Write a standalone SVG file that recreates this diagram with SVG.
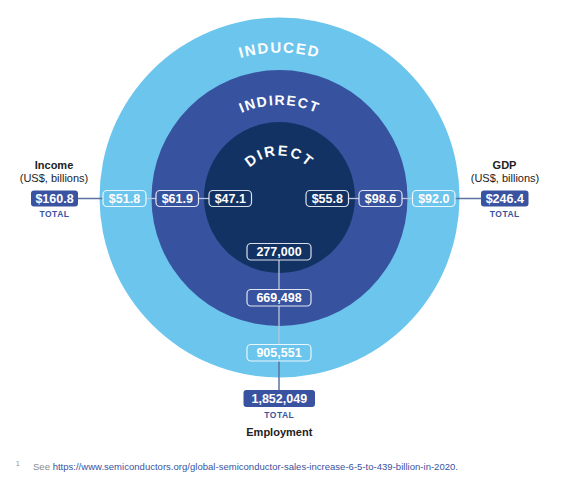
<svg xmlns="http://www.w3.org/2000/svg" width="562" height="484" viewBox="0 0 562 484">
<defs>
<style>
.pill{fill:none;stroke:#ffffff;stroke-opacity:0.85;stroke-width:1.2}
.tot{fill:#3a53a0}
.pt{font-family:"Liberation Sans",Arial,sans-serif;font-weight:bold;font-size:12.5px;fill:#ffffff;text-anchor:middle}
.lbl{font-family:"Liberation Sans",Arial,sans-serif;font-size:11px;fill:#222222;text-anchor:middle}
.b{font-weight:bold}
.total{font-family:"Liberation Sans",Arial,sans-serif;font-weight:bold;font-size:8.5px;fill:#3a53a0;text-anchor:middle;letter-spacing:0.5px}
.arc{font-family:"Liberation Sans",Arial,sans-serif;font-weight:bold;fill:#ffffff;text-anchor:middle}
.lin{stroke:#b9c6dc;stroke-width:1.3;fill:none}
.lout{stroke:#5a73a0;stroke-width:1.5;fill:none}
</style>
<path id="a1" d="M134.5,197.5 A145,145 0 0 1 424.5,197.5"/>
<path id="a2" d="M187,197.5 A92.5,92.5 0 0 1 372,197.5"/>
<path id="a3" d="M237.5,197.5 A42,42 0 0 1 321.5,197.5"/>
</defs>
<rect width="562" height="484" fill="#ffffff"/>
<g id="induced">
<circle cx="279.5" cy="197.5" r="180" fill="#6cc5ed"/>
</g>
<g id="indirect">
<circle cx="279.5" cy="198" r="128" fill="#37529e"/>
</g>
<g id="direct">
<circle cx="279.5" cy="197.5" r="75.5" fill="#133264"/>
</g>
<g id="ring-labels">
<text class="arc" font-size="15" letter-spacing="1.6"><textPath href="#a1" startOffset="50%">INDUCED</textPath></text>
<text class="arc" font-size="14" letter-spacing="1.5"><textPath href="#a2" startOffset="50%">INDIRECT</textPath></text>
<text class="arc" font-size="14.5" letter-spacing="2"><textPath href="#a3" startOffset="50%">DIRECT</textPath></text>
</g>
<g id="connectors">
<line class="lout" x1="78" y1="198.5" x2="103" y2="198.5"/>
<line class="lin" x1="146" y1="198.5" x2="156" y2="198.5"/>
<line class="lin" x1="198.5" y1="198.5" x2="209" y2="198.5"/>
<line class="lin" x1="348.5" y1="198.5" x2="359" y2="198.5"/>
<line class="lin" x1="402" y1="198.5" x2="412.5" y2="198.5"/>
<line class="lout" x1="455" y1="198.5" x2="481" y2="198.5"/>
<line class="lin" x1="279" y1="260" x2="279" y2="289"/>
<line class="lin" x1="279" y1="306" x2="279" y2="345"/>
<line class="lout" x1="279" y1="361" x2="279" y2="390"/>
</g>
<g id="income">
<text class="lbl b" x="54" y="169">Income</text>
<text class="lbl" x="54" y="182">(US$, billions)</text>
<rect class="tot" x="31" y="190.5" width="47" height="16" rx="3"/>
<text class="pt" x="54.5" y="203">$160.8</text>
<text class="total" x="54.5" y="217">TOTAL</text>
</g>
<g id="income-induced">
<rect class="pill" x="103" y="190.5" width="43" height="16" rx="4"/>
<text class="pt" x="124.5" y="203">$51.8</text>
</g>
<g id="income-indirect">
<rect class="pill" x="156" y="190.5" width="42.5" height="16" rx="4"/>
<text class="pt" x="177.3" y="203">$61.9</text>
</g>
<g id="income-direct">
<rect class="pill" x="209" y="190.5" width="42.5" height="16" rx="4"/>
<text class="pt" x="230.3" y="203">$47.1</text>
</g>
<g id="gdp-direct">
<rect class="pill" x="306" y="190.5" width="42.5" height="16" rx="4"/>
<text class="pt" x="327.3" y="203">$55.8</text>
</g>
<g id="gdp-indirect">
<rect class="pill" x="359" y="190.5" width="43" height="16" rx="4"/>
<text class="pt" x="380.5" y="203">$98.6</text>
</g>
<g id="gdp-induced">
<rect class="pill" x="412.5" y="190.5" width="42.5" height="16" rx="4"/>
<text class="pt" x="433.8" y="203">$92.0</text>
</g>
<g id="gdp">
<text class="lbl b" x="504.5" y="169">GDP</text>
<text class="lbl" x="505" y="182">(US$, billions)</text>
<rect class="tot" x="481" y="190.5" width="47.5" height="16" rx="3"/>
<text class="pt" x="504.8" y="203">$246.4</text>
<text class="total" x="504.8" y="217">TOTAL</text>
</g>
<g id="emp-direct">
<rect class="pill" x="247" y="243.5" width="64" height="16.5" rx="4"/>
<text class="pt" x="279" y="256">277,000</text>
</g>
<g id="emp-indirect">
<rect class="pill" x="247" y="289.5" width="64" height="16.5" rx="4"/>
<text class="pt" x="279" y="302">669,498</text>
</g>
<g id="emp-induced">
<rect class="pill" x="247" y="344.5" width="64" height="16.5" rx="4"/>
<text class="pt" x="279" y="357">905,551</text>
</g>
<g id="employment">
<rect class="tot" x="243.5" y="390" width="71.5" height="17" rx="3"/>
<text class="pt" x="279.3" y="403">1,852,049</text>
<text class="total" x="279.3" y="418">TOTAL</text>
<text class="lbl b" x="279.3" y="436">Employment</text>
</g>
<g id="footnote" font-family="'Liberation Sans',Arial,sans-serif" font-size="9.5">
<text x="16" y="466" font-size="6.5" fill="#888888">1</text>
<text x="33" y="470" fill="#888888" textLength="425" lengthAdjust="spacing">See <tspan fill="#3a53a0">https://www.semiconductors.org/global-semiconductor-sales-increase-6-5-to-439-billion-in-2020.</tspan></text>
</g>
</svg>
